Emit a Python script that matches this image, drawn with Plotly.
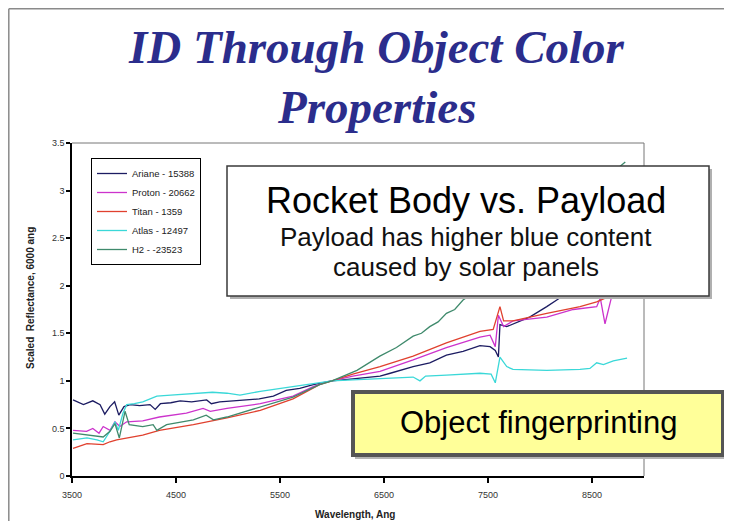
import plotly.graph_objects as go

# ---------------- data ----------------
ariane_wl = [3510, 3610, 3700, 3770, 3815, 3865, 3910, 3950, 4000, 4060, 4150, 4250, 4300, 4350,
             4450, 4540, 4650, 4795, 4840, 4920, 5050, 5180, 5300, 5436, 5500, 5560, 5690, 5820,
             5950, 6000, 6200, 6462, 6560, 6780, 6940, 7100, 7260, 7423, 7520, 7570, 7600, 7615,
             7680, 7900, 8065, 8190, 8350, 8500, 8650, 8800]
ariane_val = [0.80, 0.75, 0.79, 0.75, 0.65, 0.73, 0.78, 0.64, 0.73, 0.75, 0.74, 0.75, 0.70, 0.76,
              0.77, 0.79, 0.78, 0.80, 0.76, 0.78, 0.79, 0.80, 0.81, 0.84, 0.87, 0.90, 0.92, 0.96,
              0.99, 1.00, 1.02, 1.05, 1.08, 1.15, 1.19, 1.27, 1.31, 1.37, 1.36, 1.32, 1.25, 1.59,
              1.57, 1.67, 1.78, 1.87, 1.95, 2.00, 2.05, 2.10]

proton_wl = [3510, 3640, 3700, 3760, 3800, 3865, 3913, 3960, 4026, 4180, 4340, 4600, 4760, 4830,
             4990, 5310, 5625, 5820, 5950, 6000, 6200, 6462, 6780, 7100, 7423, 7520, 7570, 7600,
             7650, 7740, 8065, 8320, 8545, 8580, 8625, 8690, 8800]
proton_val = [0.48, 0.47, 0.50, 0.45, 0.52, 0.48, 0.57, 0.52, 0.57, 0.58, 0.62, 0.66, 0.71, 0.68,
              0.71, 0.76, 0.84, 0.94, 0.99, 1.00, 1.05, 1.10, 1.22, 1.35, 1.46, 1.48, 1.36, 1.69,
              1.57, 1.63, 1.67, 1.75, 1.78, 1.87, 1.60, 1.89, 2.10]

titan_wl = [3510, 3644, 3800, 3865, 3930, 4026, 4180, 4340, 4667, 4990, 5310, 5625, 5880, 6000,
            6200, 6462, 6780, 7100, 7423, 7550, 7615, 7650, 7740, 8065, 8385, 8545, 8673, 8800]
titan_val = [0.29, 0.34, 0.33, 0.36, 0.38, 0.40, 0.43, 0.48, 0.54, 0.61, 0.69, 0.81, 0.96, 1.00,
             1.07, 1.15, 1.26, 1.40, 1.52, 1.54, 1.78, 1.63, 1.63, 1.71, 1.78, 1.83, 1.89, 1.95]

atlas_wl = [3510, 3644, 3740, 3800, 3865, 3913, 3945, 3990, 4026, 4100, 4180, 4316, 4450, 4667,
            4850, 4990, 5115, 5310, 5625, 5950, 6000, 6200, 6462, 6560, 6780, 6846, 6900, 7100,
            7423, 7530, 7570, 7615, 7680, 7740, 8065, 8385, 8480, 8545, 8610, 8705, 8837]
atlas_val = [0.38, 0.40, 0.38, 0.36, 0.47, 0.57, 0.48, 0.66, 0.75, 0.76, 0.78, 0.84, 0.85, 0.87,
             0.88, 0.87, 0.85, 0.89, 0.94, 0.99, 1.00, 1.01, 1.02, 1.03, 1.04, 1.00, 1.05, 1.06,
             1.08, 1.07, 0.98, 1.25, 1.15, 1.12, 1.11, 1.12, 1.13, 1.19, 1.17, 1.21, 1.24]

h2_wl = [3510, 3644, 3800, 3865, 3913, 3955, 4010, 4050, 4180, 4280, 4316, 4410, 4667, 4790,
         4860, 4990, 5310, 5625, 5880, 6000, 6240, 6460, 6620, 6780, 6860, 6940, 7020, 7100,
         7180, 7260, 7400, 7600, 7800, 8000, 8200, 8400, 8600, 8820]
h2_val = [0.45, 0.43, 0.41, 0.47, 0.55, 0.40, 0.68, 0.54, 0.52, 0.54, 0.48, 0.54, 0.59, 0.64,
          0.59, 0.62, 0.73, 0.83, 0.96, 1.00, 1.11, 1.26, 1.35, 1.47, 1.50, 1.57, 1.62, 1.71,
          1.75, 1.85, 1.95, 2.10, 2.30, 2.50, 2.70, 2.90, 3.10, 3.30]

series_names = ["Ariane - 15388", "Proton - 20662", "Titan - 1359", "Atlas - 12497", "H2 - -23523"]
series_colors = ["#1c1c62", "#cc33cc", "#e0402e", "#3ad8d8", "#3f8a6c"]

x_ticks = [3500, 4500, 5500, 6500, 7500, 8500]
y_ticks = [0, 0.5, 1, 1.5, 2, 2.5, 3, 3.5]
y_ticktext = ["0", "0.5", "1", "1.5", "2", "2.5", "3", "3.5"]

# ---------------- figure ----------------
# The page has an 8px body margin, so page coordinates = figure coordinates + 8.
OFF = 8
W, H = 732 - OFF, 529 - 2 * OFF
L, R, T, B = 72, 644, 143, 476          # plot area in page pixels


def fx(px):
    return (px - L) / (R - L)


def fy(py):
    return (B - py) / (B - T)


fig = go.Figure()
data = [(ariane_wl, ariane_val), (proton_wl, proton_val), (titan_wl, titan_val),
        (atlas_wl, atlas_val), (h2_wl, h2_val)]
for (xs, ys), name, col in zip(data, series_names, series_colors):
    fig.add_trace(go.Scatter(x=xs, y=ys, mode="lines", name=name,
                             line=dict(color=col, width=1.3)))

shapes = [
    # outer slide frame (left and top)
    dict(type="line", xref="paper", yref="paper", x0=fx(8.8), x1=fx(8.8), y0=fy(8.8), y1=fy(540),
         line=dict(color="#8a8a8a", width=1.5)),
    dict(type="line", xref="paper", yref="paper", x0=fx(8.8), x1=fx(740), y0=fy(8.8), y1=fy(8.8),
         line=dict(color="#8a8a8a", width=1.5)),
    # plot-area border top/right
    dict(type="line", xref="paper", yref="paper", x0=0, x1=1, y0=1, y1=1,
         line=dict(color="#777777", width=1), layer="below"),
    dict(type="line", xref="paper", yref="paper", x0=1, x1=1, y0=0, y1=1,
         line=dict(color="#777777", width=1), layer="below"),
    # upper callout box (shadow + box)
    dict(type="rect", xref="paper", yref="paper", x0=fx(230), x1=fx(712), y0=fy(169), y1=fy(299),
         fillcolor="#b0b0b0", line=dict(width=0), layer="above"),
    dict(type="rect", xref="paper", yref="paper", x0=fx(227), x1=fx(709), y0=fy(166), y1=fy(296),
         fillcolor="white", line=dict(color="#3a3a3a", width=1.5), layer="above"),
    # lower callout box
    dict(type="rect", xref="paper", yref="paper", x0=fx(355), x1=fx(727), y0=fy(394), y1=fy(459),
         fillcolor="#b5b5b5", line=dict(width=0), layer="above"),
    dict(type="rect", xref="paper", yref="paper", x0=fx(353), x1=fx(723), y0=fy(392), y1=fy(455),
         fillcolor="#ffff99", line=dict(color="#555555", width=4), layer="above"),
]

title_col = "#2b2d8c"
ann = [
    dict(text="<b><i>ID Through Object Color</i></b>", x=fx(376), y=fy(47),
         font=dict(family="Liberation Serif", size=47, color=title_col)),
    dict(text="<b><i>Properties</i></b>", x=fx(376), y=fy(107),
         font=dict(family="Liberation Serif", size=47, color=title_col)),
    dict(text="Rocket Body vs. Payload", x=fx(466), y=fy(200),
         font=dict(family="Liberation Sans", size=36, color="black")),
    dict(text="Payload has higher blue content", x=fx(466), y=fy(237),
         font=dict(family="Liberation Sans", size=26, color="#111111")),
    dict(text="caused by solar panels", x=fx(466), y=fy(267),
         font=dict(family="Liberation Sans", size=26, color="#111111")),
    dict(text="Object fingerprinting", x=fx(538), y=fy(422),
         font=dict(family="Liberation Sans", size=31, color="black")),
    dict(text="<b>Wavelength, Ang</b>", x=fx(355), y=fy(514),
         font=dict(family="Liberation Sans", size=10, color="#222222")),
    dict(text="<b>Scaled  Reflectance, 6000 ang</b>", x=fx(30), y=fy(298), textangle=-90,
         font=dict(family="Liberation Sans", size=10, color="#222222")),
]
for a in ann:
    a.update(xref="paper", yref="paper", showarrow=False, xanchor="center", yanchor="middle")

fig.update_layout(
    width=W, height=H,
    margin=dict(l=L - OFF, r=W - (R - OFF), t=T - OFF, b=H - (B - OFF), pad=0),
    paper_bgcolor="white", plot_bgcolor="white",
    showlegend=True,
    legend=dict(x=fx(91), y=fy(158), xanchor="left", yanchor="top",
                bgcolor="white", bordercolor="black", borderwidth=1,
                font=dict(family="Liberation Sans", size=9.5, color="#222222"),
                itemwidth=30, tracegroupgap=0),
    shapes=shapes,
    annotations=ann,
    xaxis=dict(range=[3500, 9000], tickvals=x_ticks, ticktext=[str(v) for v in x_ticks],
               showgrid=False, zeroline=False, showline=True, linecolor="black", linewidth=1.5,
               ticks="outside", ticklen=5, tickcolor="black", tickwidth=1.5,
               ticklabelstandoff=4,
               tickfont=dict(family="Liberation Sans", size=9, color="#333333")),
    yaxis=dict(range=[0, 3.5], tickvals=y_ticks, ticktext=y_ticktext,
               showgrid=False, zeroline=False, showline=True, linecolor="black", linewidth=1.5,
               ticks="outside", ticklen=4, tickcolor="black", tickwidth=1.5,
               tickfont=dict(family="Liberation Sans", size=9, color="#333333")),
)

fig.write_html("out.html")
